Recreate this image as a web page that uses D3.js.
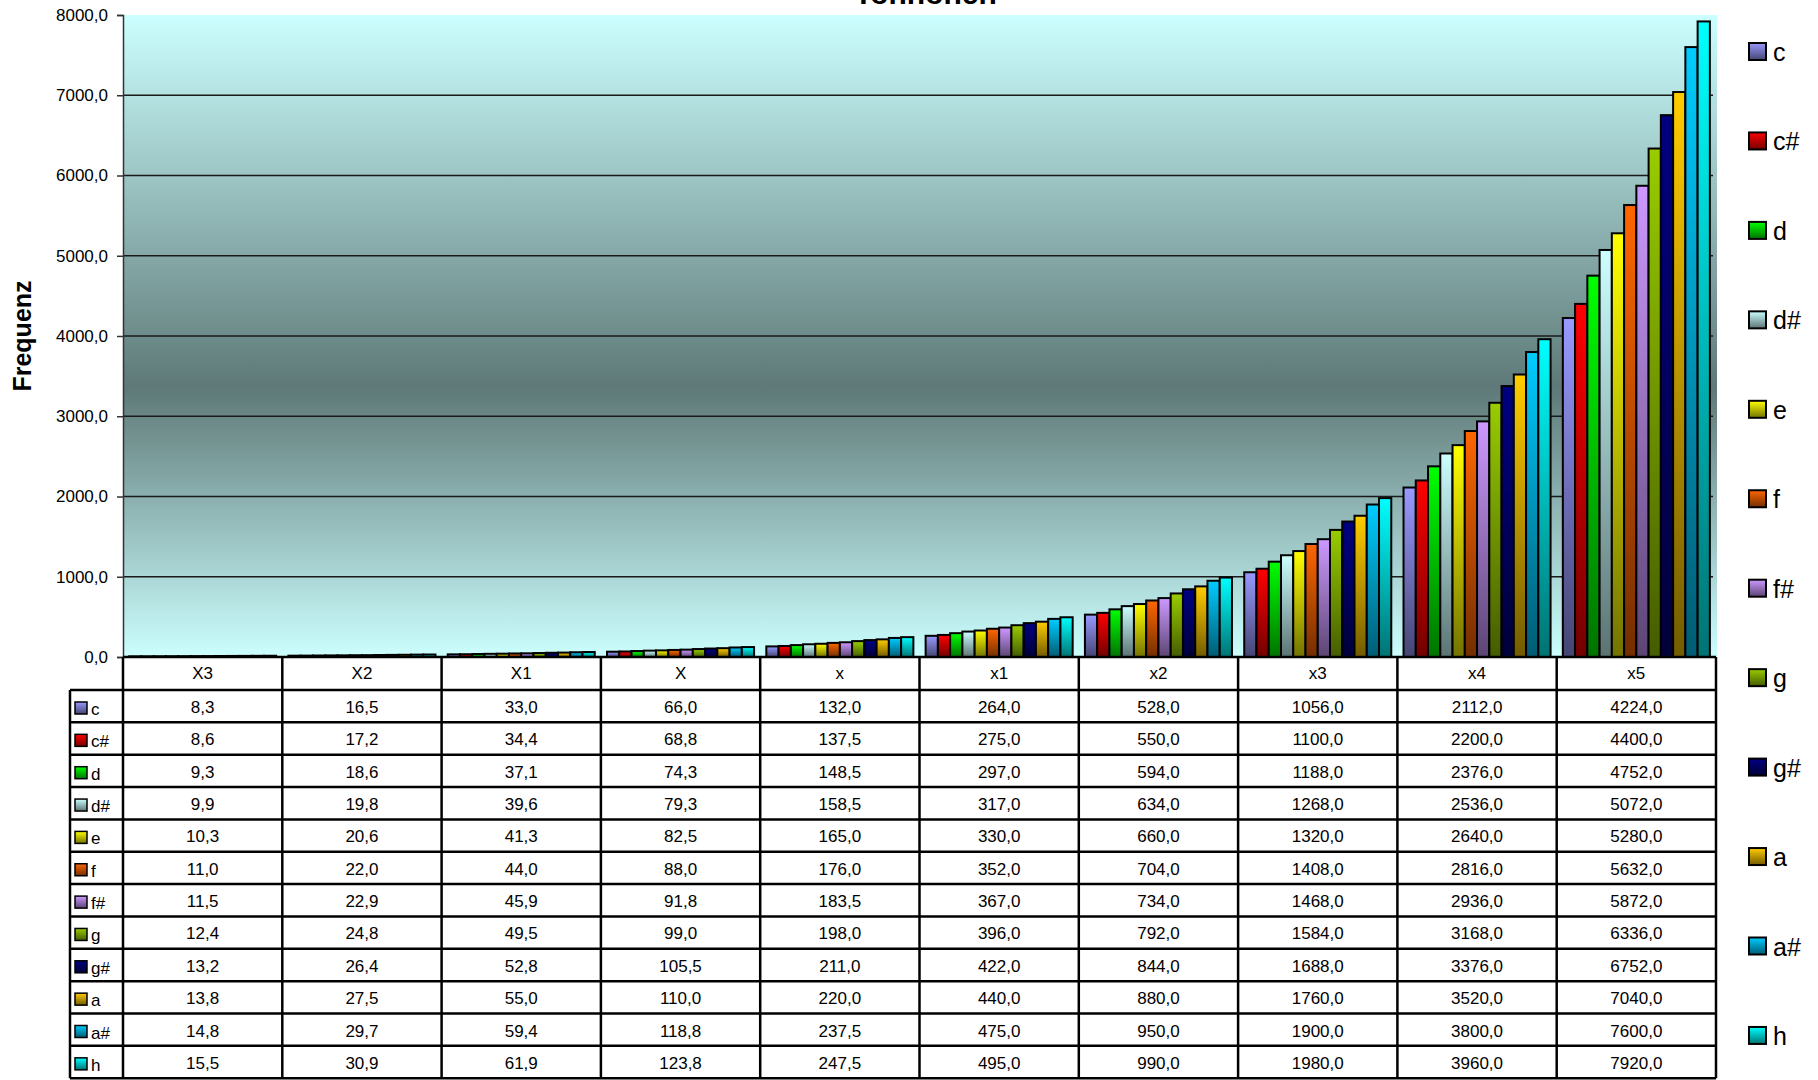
<!DOCTYPE html>
<html>
<head>
<meta charset="utf-8">
<script src="https://cdn.jsdelivr.net/npm/d3@7"></script>
<style>
  html, body { margin: 0; padding: 0; background: #ffffff; }
  svg { display: block; font-family: "Liberation Sans", Arial, sans-serif; }
</style>
</head>
<body>
<svg id="chart" width="1818" height="1080"></svg>
<script>
// ---------- data ----------
const categories = ["X3", "X2", "X1", "X", "x", "x1", "x2", "x3", "x4", "x5"];
const seriesNames = ["c", "c#", "d", "d#", "e", "f", "f#", "g", "g#", "a", "a#", "h"];
const seriesColors = ["#9999FF", "#FF0000", "#00FF00", "#CCFFFF", "#FFFF00", "#FF6600",
                      "#CC99FF", "#99CC00", "#000080", "#FFCC00", "#00CCFF", "#00FFFF"];
const valC   = [8.3, 16.5, 33.0, 66.0, 132.0, 264.0, 528.0, 1056.0, 2112.0, 4224.0];
const valCis = [8.6, 17.2, 34.4, 68.8, 137.5, 275.0, 550.0, 1100.0, 2200.0, 4400.0];
const valD   = [9.3, 18.6, 37.1, 74.3, 148.5, 297.0, 594.0, 1188.0, 2376.0, 4752.0];
const valDis = [9.9, 19.8, 39.6, 79.3, 158.5, 317.0, 634.0, 1268.0, 2536.0, 5072.0];
const valE   = [10.3, 20.6, 41.3, 82.5, 165.0, 330.0, 660.0, 1320.0, 2640.0, 5280.0];
const valF   = [11.0, 22.0, 44.0, 88.0, 176.0, 352.0, 704.0, 1408.0, 2816.0, 5632.0];
const valFis = [11.5, 22.9, 45.9, 91.8, 183.5, 367.0, 734.0, 1468.0, 2936.0, 5872.0];
const valG   = [12.4, 24.8, 49.5, 99.0, 198.0, 396.0, 792.0, 1584.0, 3168.0, 6336.0];
const valGis = [13.2, 26.4, 52.8, 105.5, 211.0, 422.0, 844.0, 1688.0, 3376.0, 6752.0];
const valA   = [13.8, 27.5, 55.0, 110.0, 220.0, 440.0, 880.0, 1760.0, 3520.0, 7040.0];
const valAis = [14.8, 29.7, 59.4, 118.8, 237.5, 475.0, 950.0, 1900.0, 3800.0, 7600.0];
const valH   = [15.5, 30.9, 61.9, 123.8, 247.5, 495.0, 990.0, 1980.0, 3960.0, 7920.0];
const yTicks = [0, 1000, 2000, 3000, 4000, 5000, 6000, 7000, 8000];
const titleText = "Tonhöhen";
const yTitle = "Frequenz";

const seriesValues = [valC, valCis, valD, valDis, valE, valF, valFis, valG, valGis, valA, valAis, valH];
const series = seriesNames.map((name, i) => ({ name, color: seriesColors[i], values: seriesValues[i], idx: i }));

// ---------- layout ----------
const svg = d3.select("#chart");
const plotLeft = 123, plotRight = 1716, plotTop = 15, plotBottom = 657;
const tableLeft = 70, headerH = 33, rowH = 32.35;
const fmt = v => d3.format(".1f")(v).replace(".", ",");

const x0 = d3.scaleBand().domain(categories).range([plotLeft, plotRight]).paddingInner(0).paddingOuter(0);
const x1 = d3.scaleBand().domain(seriesNames).range([0, x0.bandwidth()]).paddingInner(0).paddingOuter(0.5);
const y = d3.scaleLinear().domain([0, 8000]).range([plotBottom, plotTop]);

// ---------- gradients ----------
const defs = svg.append("defs");
const bg = defs.append("linearGradient").attr("id", "bgGrad").attr("x1", 0).attr("y1", 0).attr("x2", 0).attr("y2", 1);
bg.append("stop").attr("offset", "0%").attr("stop-color", "#CCFFFF");
bg.append("stop").attr("offset", "58%").attr("stop-color", "#5E7977");
bg.append("stop").attr("offset", "100%").attr("stop-color", "#CCFFFF");

function darkColor(c, k) {
  const r = d3.rgb(c);
  return d3.rgb(r.r * k, r.g * k, r.b * k).formatHex();
}
series.forEach(s => {
  const g = defs.append("linearGradient").attr("id", "sg" + s.idx)
    .attr("x1", 0).attr("y1", 0).attr("x2", 0).attr("y2", 1);
  g.append("stop").attr("offset", "0%").attr("stop-color", s.color);
  g.append("stop").attr("offset", "100%").attr("stop-color", darkColor(s.color, 0.45));
});

// ---------- plot background ----------
svg.append("rect").attr("x", plotLeft).attr("y", plotTop)
  .attr("width", plotRight - plotLeft + 1).attr("height", plotBottom - plotTop)
  .attr("fill", "url(#bgGrad)");

// gridlines
svg.append("g").selectAll("line").data(yTicks.filter(t => t > 0 && t < 8000)).join("line")
  .attr("x1", plotLeft).attr("x2", plotRight - 3)
  .attr("y1", d => y(d)).attr("y2", d => y(d))
  .attr("stroke", "#1a1a1a").attr("stroke-width", 1.5);

// ---------- bars ----------
const groups = svg.append("g").selectAll("g").data(categories).join("g")
  .attr("transform", d => `translate(${x0(d)},0)`);
groups.selectAll("rect").data((cat, ci) => series.map(s => ({ s, v: s.values[ci] }))).join("rect")
  .attr("x", d => x1(d.s.name))
  .attr("y", d => y(d.v))
  .attr("width", x1.bandwidth())
  .attr("height", d => Math.max(0, plotBottom - y(d.v)))
  .attr("fill", d => `url(#sg${d.s.idx})`)
  .attr("stroke", "#000").attr("stroke-width", 2);

// ---------- y axis ----------
const yAxis = d3.axisLeft(y).tickValues(yTicks).tickFormat(fmt).tickSize(6).tickPadding(9);
const ya = svg.append("g").attr("transform", `translate(${plotLeft},0)`).call(yAxis);
ya.select(".domain").attr("stroke", "#333").attr("stroke-width", 1.5);
ya.selectAll(".tick line").attr("stroke", "#333").attr("stroke-width", 1.5);
ya.selectAll(".tick text").attr("font-size", 17).attr("fill", "#000")
  .attr("font-family", "'Liberation Sans', Arial, sans-serif");

// y title
svg.append("text").attr("transform", `translate(31,${(plotTop + plotBottom) / 2}) rotate(-90)`)
  .attr("text-anchor", "middle").attr("font-size", 25).attr("font-weight", "bold").text(yTitle);

// chart title (cut off at the top)
svg.append("text").attr("x", (plotLeft + plotRight) / 2 + 6).attr("y", 4)
  .attr("text-anchor", "middle").attr("font-size", 30).attr("font-weight", "bold").text(titleText);

// ---------- data table ----------
const table = svg.append("g");
const tableBottom = plotBottom + headerH + rowH * seriesNames.length;
// header cells
table.selectAll("text.hdr").data(categories).join("text").attr("class", "hdr")
  .attr("x", d => x0(d) + x0.bandwidth() / 2).attr("y", plotBottom + 22)
  .attr("text-anchor", "middle").attr("font-size", 17).text(d => d);
// value cells
series.forEach((s, si) => {
  const rowTop = plotBottom + headerH + si * rowH;
  table.append("g").selectAll("text").data(s.values).join("text")
    .attr("x", (d, ci) => x0(categories[ci]) + x0.bandwidth() / 2)
    .attr("y", rowTop + 23)
    .attr("text-anchor", "middle").attr("font-size", 17).text(d => fmt(d));
  table.append("rect").attr("x", 75).attr("y", rowTop + 12).attr("width", 12).attr("height", 12)
    .attr("fill", `url(#sg${s.idx})`).attr("stroke", "#000").attr("stroke-width", 1.5);
  table.append("text").attr("x", 91).attr("y", rowTop + 25).attr("font-size", 17).text(s.name);
});
// horizontal lines
const hLines = [plotBottom].concat(d3.range(seriesNames.length + 1).map(i => plotBottom + headerH + i * rowH));
table.selectAll("line.h").data(hLines).join("line").attr("class", "h")
  .attr("x1", (d, i) => i === 0 ? plotLeft : tableLeft).attr("x2", plotRight)
  .attr("y1", d => d).attr("y2", d => d)
  .attr("stroke", "#000").attr("stroke-width", 2.5);
// vertical lines
const vLines = categories.map(c => x0(c)).concat([plotRight]);
table.selectAll("line.v").data(vLines).join("line").attr("class", "v")
  .attr("x1", d => d).attr("x2", d => d).attr("y1", plotBottom).attr("y2", tableBottom)
  .attr("stroke", "#000").attr("stroke-width", 2.5);
table.append("line").attr("x1", tableLeft).attr("x2", tableLeft)
  .attr("y1", plotBottom + headerH).attr("y2", tableBottom)
  .attr("stroke", "#000").attr("stroke-width", 2.5);

// ---------- legend ----------
const legY0 = 52, legStep = 89.45;
const leg = svg.append("g").selectAll("g").data(series).join("g")
  .attr("transform", (d, i) => `translate(1749,${legY0 + i * legStep})`);
leg.append("rect").attr("x", 0).attr("y", -9).attr("width", 17).attr("height", 17)
  .attr("fill", d => `url(#sg${d.idx})`).attr("stroke", "#000").attr("stroke-width", 2);
leg.append("text").attr("x", 24).attr("y", 9).attr("font-size", 25).text(d => d.name);
</script>
</body>
</html>
